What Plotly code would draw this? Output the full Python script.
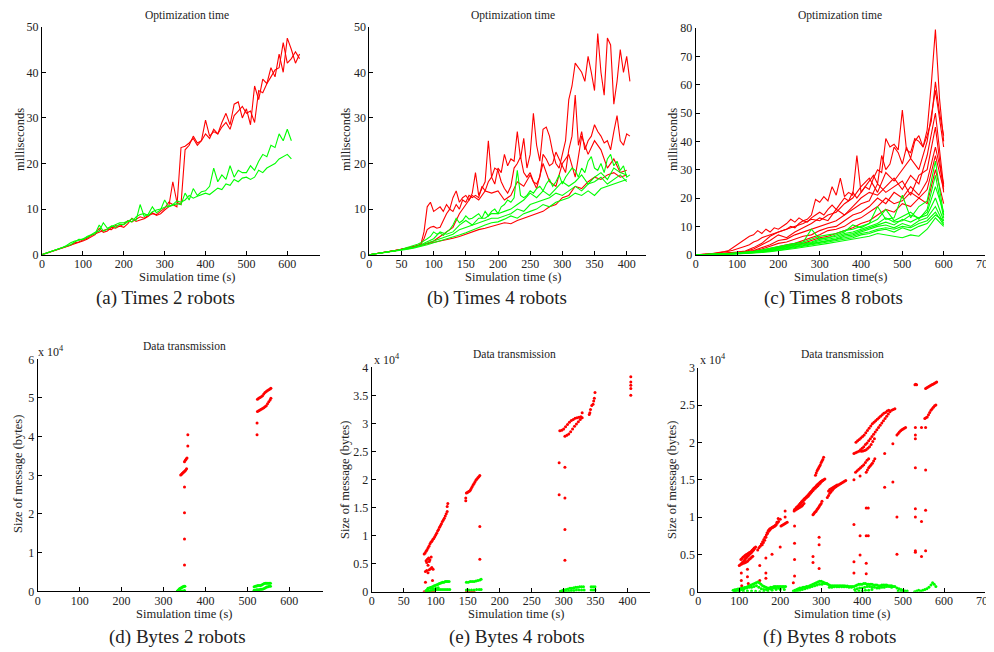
import plotly.graph_objects as go

FONT = "Liberation Serif"
RED = "#ff0000"
GREEN = "#00ff00"

# ---------------- (a) Times 2 robots ----------------
t_a = list(range(0, 640, 10))
t_a_green = list(range(0, 620, 10))
a_red = [
    [0, 0.3, 0.6, 0.9, 1.2, 1.5, 1.8, 2.1, 2.6, 2.8,
     3.2, 3.6, 4.2, 4.6, 4.9, 5.3, 5.6, 5.5, 6.4, 6.2,
     6.7, 7.5, 7.2, 7.8, 8.3, 8.0, 8.6, 9.0, 8.8, 9.5,
     10.2, 11.5, 11.0, 10.5, 23.5, 23.8, 24.5, 25.5, 24.0, 25.0,
     26.5, 25.5, 27.5, 26.5, 28.0, 29.0, 27.5, 30.5, 31.5, 32.5,
     31.0, 31.5, 29.0, 36.0, 35.5, 37.5, 39.0, 40.5, 41.0, 46.5,
     42.0, 43.0, 44.5, 43.0],
    [0, 0.3, 0.5, 0.8, 1.1, 1.4, 1.7, 2.0, 2.3, 2.7,
     3.0, 3.4, 3.9, 4.4, 5.8, 4.9, 5.2, 6.0, 5.8, 6.3,
     6.0, 6.8, 8.0, 7.3, 7.6, 7.9, 8.4, 9.2, 8.6, 9.0,
     9.8, 10.5, 16.0, 11.5, 11.0, 23.0, 24.0, 26.0, 24.5, 25.0,
     29.5, 26.0, 27.0, 26.5, 29.0, 31.0, 28.5, 33.0, 33.5, 30.0,
     32.0, 28.5, 37.0, 34.0, 38.5, 37.5, 41.0, 39.0, 44.0, 40.0,
     47.5, 45.0, 42.0, 44.0],
]
a_green = [
    [0, 0.3, 0.6, 1.0, 1.3, 1.6, 2.0, 2.6, 3.0, 3.1,
     3.5, 3.8, 4.3, 4.6, 6.5, 5.2, 5.6, 6.3, 6.0, 6.7,
     6.6, 7.2, 7.9, 7.5, 11.0, 8.4, 8.9, 10.5, 9.2, 9.8,
     12.0, 10.5, 10.8, 11.2, 11.0, 13.5, 12.0, 14.5, 13.0, 13.8,
     14.0, 15.0, 19.0, 16.0, 17.5, 16.5, 19.5, 17.0, 18.5, 18.0,
     18.0, 19.5, 18.5, 20.5, 22.0, 21.5, 24.0, 23.5, 26.5, 25.0,
     27.5, 25.0],
    [0, 0.3, 0.6, 0.9, 1.2, 1.5, 1.8, 2.2, 2.8, 3.4,
     3.3, 4.0, 4.4, 4.9, 5.2, 7.0, 5.8, 6.2, 6.6, 7.0,
     7.0, 7.4, 7.2, 8.3, 8.8, 9.0, 8.6, 9.4, 9.8, 10.0,
     10.4, 10.6, 11.0, 11.8, 11.5, 12.0, 13.0, 12.4, 12.8, 13.2,
     13.5, 13.2, 14.0, 14.6, 14.3, 15.5, 15.2, 16.5, 16.0, 16.8,
     17.0, 16.5, 17.0, 18.5, 18.0, 19.0, 19.5, 20.0, 21.0, 21.5,
     22.0, 21.0],
]

# ---------------- (b) Times 4 robots ----------------
t_b5 = list(range(0, 410, 5))
t_b = list(range(0, 410, 10))
b_red_fine = [
    [0, 0.1, 0.2, 0.3, 0.4, 0.5, 0.6, 0.7, 0.9, 1.0, 1.2, 1.3, 1.5, 1.6, 1.8, 2.0, 2.2,
     5.0, 10.5, 11.5, 9.5, 10.0, 10.5, 9.5, 11.0, 10.0, 12.5, 14.0, 11.5, 12.5, 13.0, 12.0, 13.5,
     18.0, 13.0, 14.5, 16.0, 25.0, 17.0, 15.5, 19.0, 18.0, 22.0, 19.5, 21.0, 20.5, 27.0, 21.0, 25.5,
     19.0, 22.0, 31.0, 24.0, 20.5, 27.5, 28.0, 26.0, 22.5, 20.0, 19.0, 22.0, 25.0, 34.0, 37.0, 42.0,
     41.0, 40.0, 38.0, 43.5, 40.0, 36.0, 48.5, 40.0, 35.0, 47.5, 46.0, 33.0, 38.0, 45.0, 40.0, 43.5, 38.0],
    [0, 0.1, 0.2, 0.3, 0.4, 0.5, 0.6, 0.7, 0.9, 1.0, 1.2, 1.3, 1.5, 1.6, 1.8, 2.0, 2.3,
     3.5, 5.5, 6.0, 6.2, 5.8, 6.0, 7.5, 9.0, 10.0, 9.5, 11.0, 10.0, 12.0, 11.5, 13.0, 12.5,
     13.0, 12.5, 15.0, 14.0, 16.0, 17.0, 19.0, 18.5, 16.0, 14.5, 13.5, 15.0, 19.0, 20.0, 21.5, 18.0,
     17.0, 18.0, 16.0, 15.5, 17.0, 22.0, 21.0, 19.5, 20.0, 22.5, 21.0, 19.5, 18.0, 23.0, 26.0, 35.0,
     24.0, 27.0, 23.0, 25.0, 26.0, 28.5, 27.0, 26.0, 24.5, 25.0, 23.0, 27.0, 30.5, 25.0, 24.0, 26.5, 26.0],
]
b_red = [
    [0, 0.2, 0.4, 0.6, 0.9, 1.2, 1.5, 1.8, 2.0, 2.5,
     3.0, 4.0, 5.0, 6.0, 9.0, 11.0, 13.0, 12.0, 14.0, 13.5,
     14.0, 12.0, 13.0, 16.0, 15.0, 17.5, 14.5, 20.0, 16.0, 15.0,
     20.0, 22.0, 17.0, 26.0, 22.0, 25.0, 23.0, 19.0, 21.0, 18.0, 18.5],
    [0, 0.2, 0.4, 0.6, 0.9, 1.2, 1.5, 1.8, 2.0, 2.3,
     2.6, 3.0, 3.3, 3.6, 4.0, 4.5, 5.0, 5.5, 5.8, 6.2,
     6.5, 7.0, 6.8, 7.5, 8.0, 8.5, 9.0, 9.5, 10.5, 11.0,
     12.5, 13.0, 15.0, 14.5, 16.0, 17.0, 16.5, 17.5, 18.0, 17.0, 17.5],
]
b_green_fine = [
    [0, 0.1, 0.2, 0.3, 0.4, 0.5, 0.6, 0.7, 0.9, 1.0, 1.2, 1.4, 1.6, 1.8, 2.0, 2.3, 2.6,
     3.0, 3.5, 4.0, 5.0, 4.5, 4.8, 4.2, 5.0, 5.5, 6.5, 8.0, 7.0, 7.5, 8.5, 7.8, 8.0,
     8.5, 9.0, 8.0, 9.5, 8.5, 9.5, 10.0, 9.0, 10.5, 11.0, 12.0, 11.5, 12.5, 18.5, 13.0, 12.5,
     13.0, 14.0, 13.5, 14.5, 15.0, 14.0, 15.5, 16.5, 15.0, 16.0, 17.5, 15.5, 17.0, 18.0, 19.0, 18.5,
     17.0, 19.0, 18.0, 20.5, 21.5, 19.0, 18.5, 20.0, 18.0, 21.0, 22.0, 19.5, 20.5, 18.5, 19.5, 17.0, 17.5],
]
b_green = [
    [0, 0.2, 0.4, 0.6, 0.8, 1.1, 1.4, 1.7, 2.2, 2.8,
     3.5, 5.0, 4.5, 5.0, 6.5, 7.5, 6.5, 8.0, 8.0, 9.0,
     9.0, 9.5, 10.0, 11.0, 12.0, 13.5, 12.5, 14.0, 13.0, 14.5,
     16.0, 15.0, 16.0, 17.5, 15.5, 17.0, 18.0, 16.5, 19.0, 18.0, 17.5],
    [0, 0.2, 0.4, 0.6, 0.8, 1.0, 1.3, 1.6, 2.0, 2.5,
     3.0, 3.5, 4.0, 4.5, 5.5, 6.0, 6.5, 7.0, 7.5, 8.0,
     8.0, 8.5, 9.0, 10.0, 9.5, 11.0, 11.5, 12.0, 12.5, 13.5,
     13.0, 14.0, 15.0, 14.0, 15.5, 16.0, 17.0, 15.5, 16.5, 17.5, 16.0],
    [0, 0.2, 0.3, 0.5, 0.7, 0.9, 1.2, 1.5, 1.8, 2.2,
     2.6, 3.0, 3.4, 3.8, 4.3, 4.8, 5.4, 6.0, 6.5, 7.0,
     7.2, 7.8, 8.5, 8.0, 9.0, 9.5, 10.0, 11.0, 10.5, 11.5,
     12.0, 12.5, 13.5, 13.0, 14.0, 13.0, 14.5, 15.0, 15.5, 16.0, 16.5],
]

# ---------------- (c) Times 8 robots ----------------
t_c10 = list(range(0, 610, 10))
t_c = list(range(0, 620, 20))
c_red_fine = [
    [0, 0, 0.1, 0.2, 0.3, 0.5, 0.7, 0.9, 1.2, 1.6,
     2.0, 2.5, 3.0, 3.5, 4.5, 5.0, 6.0, 6.5, 7.0, 7.5,
     8.0, 8.5, 9.0, 10.0, 9.5, 11.0, 12.0, 11.5, 13.0, 14.0,
     15.0, 14.0, 16.0, 17.5, 16.0, 18.0, 20.0, 19.0, 22.0, 20.0,
     22.0, 24.0, 26.0, 28.0, 25.0, 35.0, 30.0, 32.0, 38.0, 36.0,
     32.0, 38.0, 34.0, 40.0, 42.0, 38.0, 44.0, 60.0, 79.5, 55.0,
     40.0],
    [0, 0, 0.1, 0.2, 0.4, 0.6, 0.8, 1.1, 1.5, 2.5,
     3.5, 4.5, 5.5, 6.5, 7.0, 8.5, 7.5, 9.0, 8.0, 9.5,
     9.0, 10.0, 11.0, 12.5, 11.5, 13.0, 12.0, 12.5, 14.0, 19.5,
     18.5, 20.5, 19.0, 24.0, 21.0, 27.0, 20.5, 22.0, 21.0, 35.0,
     22.0, 24.0, 23.0, 27.0, 30.0, 29.0, 41.0, 38.0, 39.0, 37.0,
     51.0, 37.0, 36.0, 41.0, 40.0, 38.0, 42.0, 47.0, 61.0, 50.0,
     42.0],
]
c_red = [
    [0, 0, 0.2, 0.4, 0.6, 0.9, 1.3, 2.5, 4.0, 6.5,
     8.0, 9.0, 10.0, 11.0, 12.5, 12.0, 14.0, 15.0, 18.0, 20.0,
     24.0, 27.0, 22.0, 29.0, 26.0, 30.0, 34.0, 30.0, 40.0, 58.0, 38.0],
    [0, 0, 0.2, 0.3, 0.5, 0.8, 1.1, 2.0, 3.5, 5.0,
     7.0, 6.0, 8.0, 9.5, 11.0, 13.0, 12.0, 16.0, 14.0, 17.0,
     20.0, 22.0, 21.0, 24.0, 27.0, 23.0, 28.0, 25.0, 35.0, 50.0, 24.0],
    [0, 0, 0.1, 0.3, 0.5, 0.7, 1.0, 1.5, 2.5, 3.5,
     5.0, 5.5, 7.0, 8.0, 9.0, 10.0, 11.0, 12.0, 14.0, 16.0,
     18.0, 19.0, 25.0, 22.0, 24.0, 26.0, 21.0, 28.0, 30.0, 45.0, 22.0],
    [0, 0, 0.1, 0.2, 0.4, 0.6, 0.9, 1.3, 2.0, 3.0,
     4.0, 4.5, 5.5, 6.5, 7.0, 8.5, 9.5, 10.0, 12.0, 14.0,
     15.0, 17.0, 20.0, 18.0, 22.0, 20.0, 24.0, 21.0, 26.0, 38.0, 25.0],
    [0, 0, 0.1, 0.2, 0.3, 0.5, 0.7, 1.0, 1.5, 2.2,
     3.0, 3.5, 4.0, 5.0, 6.0, 7.0, 8.5, 9.0, 10.0, 12.0,
     13.0, 15.0, 17.0, 20.0, 18.0, 19.0, 22.0, 20.0, 18.0, 30.0, 18.0],
    [0, 0, 0.1, 0.2, 0.3, 0.4, 0.6, 0.9, 1.3, 1.8,
     2.5, 3.0, 3.5, 4.0, 5.0, 6.0, 6.5, 7.5, 8.5, 9.5,
     11.0, 12.0, 14.0, 16.0, 15.0, 18.0, 17.0, 20.0, 23.0, 35.0, 23.0],
]
c_green = [
    [0, 0, 0.1, 0.2, 0.4, 0.6, 0.9, 1.2, 1.7, 2.3,
     3.0, 3.5, 4.0, 4.5, 5.5, 6.5, 7.0, 7.5, 8.5, 9.0,
     10.0, 11.0, 17.0, 12.5, 13.0, 21.0, 13.0, 17.0, 19.0, 33.0, 14.0],
    [0, 0, 0.1, 0.2, 0.4, 0.5, 0.8, 1.1, 1.5, 2.0,
     2.6, 3.2, 3.8, 4.5, 9.0, 5.5, 6.0, 7.0, 8.0, 10.5,
     9.5, 11.0, 12.5, 16.0, 12.0, 13.5, 15.0, 12.5, 16.0, 28.0, 13.0],
    [0, 0, 0.1, 0.2, 0.3, 0.5, 0.7, 1.0, 1.4, 1.9,
     2.4, 3.0, 3.5, 4.0, 4.5, 5.5, 6.0, 6.5, 7.5, 8.0,
     9.0, 10.0, 11.0, 13.0, 11.5, 12.0, 14.0, 13.0, 15.0, 24.0, 15.0],
    [0, 0, 0.1, 0.2, 0.3, 0.4, 0.6, 0.9, 1.3, 1.8,
     2.2, 2.8, 3.2, 3.7, 4.2, 5.0, 5.5, 6.0, 7.0, 7.5,
     8.5, 9.5, 10.5, 11.5, 10.5, 12.5, 11.5, 13.0, 14.0, 20.0, 12.0],
    [0, 0, 0.1, 0.2, 0.3, 0.4, 0.6, 0.8, 1.1, 1.5,
     2.0, 2.5, 3.0, 3.5, 4.0, 4.5, 5.0, 5.5, 6.5, 7.0,
     8.0, 9.0, 10.0, 10.5, 9.5, 11.0, 10.0, 12.0, 13.0, 17.0, 11.0],
    [0, 0, 0.1, 0.1, 0.2, 0.4, 0.5, 0.7, 1.0, 1.4,
     1.8, 2.2, 2.7, 3.2, 3.8, 4.3, 4.8, 5.3, 6.0, 6.5,
     7.5, 8.0, 9.0, 9.5, 9.0, 10.0, 9.5, 11.0, 12.0, 15.0, 10.5],
    [0, 0, 0.1, 0.1, 0.2, 0.3, 0.5, 0.7, 0.9, 1.2,
     1.6, 2.0, 2.5, 3.0, 3.5, 4.0, 4.5, 5.0, 5.5, 6.0,
     7.0, 7.5, 8.5, 9.0, 8.0, 9.5, 8.5, 10.0, 11.0, 14.0, 12.0],
    [0, 0, 0.1, 0.1, 0.2, 0.3, 0.4, 0.6, 0.8, 1.1,
     1.4, 1.8, 2.2, 2.6, 3.0, 3.5, 4.0, 4.5, 5.0, 5.5,
     6.0, 6.5, 7.5, 7.0, 6.5, 6.0, 7.0, 6.5, 9.0, 13.0, 10.0],
]

# ---------------- (d) Bytes 2 robots ----------------
d_red_x = [341, 343, 345, 347, 349, 351, 353, 355, 350, 352, 354, 356, 358, 358, 350, 350, 350, 350,
           524, 527, 530, 533, 536, 539, 542, 545, 548, 551, 554, 556,
           524, 527, 530, 533, 536, 539, 542, 545, 548, 551, 554, 556, 523, 523]
d_red_y = [30100, 30300, 30500, 30700, 30900, 31100, 31400, 31700, 33500, 33900, 34200, 34500, 37600, 40500,
           27000, 20300, 13500, 6800,
           49700, 49900, 50100, 50300, 50600, 51000, 51400, 51700, 51900, 52100, 52300, 52500,
           46500, 46700, 46900, 47100, 47300, 47500, 47700, 48000, 48500, 49000, 49500, 49900, 43500, 40500]
d_green_x = [333, 335, 337, 339, 341, 343, 345, 347, 349, 351, 334, 338, 342, 346, 350,
             516, 519, 522, 525, 528, 531, 534, 537, 540, 543, 546, 549, 552, 555,
             516, 519, 522, 525, 528, 531, 534, 537, 540, 543, 546, 549, 552, 555]
d_green_y = [100, 300, 500, 700, 800, 1000, 1100, 1200, 1300, 1300, 0, 100, 0, 100, 200,
             1200, 1300, 1400, 1500, 1500, 1500, 1600, 1800, 2000, 2100, 2100, 2100, 2100, 2100,
             300, 300, 400, 400, 400, 500, 500, 600, 700, 900, 1100, 1200, 1300, 1300]

# ---------------- (e) Bytes 4 robots ----------------
e_red_x = [82, 83.5, 85, 86.5, 88, 89.5, 91, 92.5, 94, 95.5, 97, 98.5, 100, 101.5, 103, 104.5, 106, 107.5,
           109, 110.5, 112, 113.5, 115, 116.5, 118, 118, 119,
           85, 87, 89, 91, 93, 86, 90, 84, 86, 88, 90, 92, 94, 96, 84, 95, 88,
           148, 149.5, 151, 152.5, 154, 155.5, 157, 158.5, 160, 161.5, 163, 164.5, 166, 167.5, 169,
           147, 147, 169, 169,
           294, 297, 300, 303, 306, 309, 312, 315, 318, 321, 324, 327, 329,
           302, 305, 308, 311, 314, 317, 320, 323, 326, 329,
           293, 293, 302, 302, 302, 302,
           340, 341, 342, 344, 346, 347, 348, 349,
           405, 405, 405, 405, 405,
           82, 86, 90, 94, 98, 148, 152, 156, 160, 295, 300]
e_red_y = [6700, 6900, 7200, 7500, 7800, 8100, 8500, 8800, 9000, 9300, 9500, 9800, 10100, 10400, 10800, 11100,
           11500, 11800, 12100, 12500, 12800, 13100, 13500, 13900, 14300, 15200, 15700,
           5500, 5800, 6000, 5700, 6200, 5200, 5400, 3600, 3800, 3400, 3900, 4100, 4300, 4000, 1700, 2000, 4700,
           17600, 17700, 17800, 17900, 18100, 18400, 18700, 19000, 19300, 19600, 19900, 20100, 20300, 20500, 20700,
           16200, 16700, 11600, 5800,
           28700, 28800, 29000, 29400, 29800, 30200, 30500, 30700, 30900, 31000, 31100, 31200, 31900,
           27700, 27900, 28100, 28500, 29000, 29500, 29900, 30300, 30700, 31000,
           23000, 17300, 22200, 16700, 11100, 5600,
           31600, 31900, 32500, 33200, 33400, 34000, 34500, 35500,
           35000, 36200, 36800, 37400, 38300,
           0, 0, 0, 0, 0, 0, 0, 0, 0, 0, 0]
e_green_x = [85, 87, 89, 91, 93, 95, 97, 99, 101, 103, 105, 107, 109, 111, 113, 115, 117, 119, 121,
             86, 89, 92, 95, 98, 101, 104, 107, 110, 113, 116, 119, 122,
             88, 92, 96, 100, 104,
             148, 151, 154, 157, 160, 163, 166, 169, 171,
             148, 152, 156, 160, 164, 168, 171,
             295, 298, 301, 304, 307, 310, 313, 316, 319, 322, 325, 328, 331,
             296, 300, 304, 308, 312, 316, 320, 324, 328, 332,
             343, 346, 349, 343, 346, 349]
e_green_y = [200, 400, 600, 700, 800, 900, 1000, 1100, 1200, 1300, 1400, 1500, 1600, 1700, 1700, 1800, 1800, 1800, 1800,
             0, 100, 200, 300, 300, 400, 400, 400, 400, 400, 400, 400, 400,
             600, 700, 500, 600, 700,
             1700, 1700, 1800, 1800, 1800, 1900, 2000, 2100, 2200,
             300, 300, 300, 300, 400, 400, 400,
             100, 200, 300, 400, 500, 600, 600, 700, 800, 800, 900, 900, 900,
             0, 0, 100, 100, 200, 200, 300, 300, 300, 300,
             900, 900, 900, 300, 300, 300]

# ---------------- (f) Bytes 8 robots ----------------
f_red_x = [100, 102.5, 105, 107.5, 110, 112.5, 115, 117.5, 120, 122.5, 125, 127.5, 130, 132.5, 135, 137.5, 140,
           104, 106.5, 109, 111.5, 114, 116.5, 119, 121.5, 124, 126.5, 129, 131.5, 134, 136.5,
           106, 109, 112, 115, 118, 121, 124, 127, 130, 133,
           145, 148, 151, 154, 157, 160, 163, 166, 169, 172, 175, 178, 181, 184, 187, 190, 193, 196, 200,
           156, 159, 162, 165, 168, 171, 174, 177, 180, 183, 186, 189, 192, 195,
           202, 205, 208, 211, 214, 217,
           105, 105, 120, 120, 150, 150, 165, 165, 165, 180, 200, 212, 212, 106, 122,
           235, 238, 241, 244, 247, 250, 253, 256, 259, 262, 265, 268, 271, 274, 277, 280, 283, 286, 289, 292,
           295, 298, 301, 304,
           240, 243, 246, 249, 252, 255, 258, 261, 264, 267, 270, 273, 276, 279, 282, 285, 288, 291, 294, 297,
           300, 303, 306, 309,
           234, 237, 240, 243, 246, 249, 252, 255, 258,
           286, 288, 290, 292, 294, 296, 298, 300, 302, 304, 306,
           280, 282, 284, 286, 288, 290, 292, 294, 296, 298, 300, 302,
           315, 318, 321, 324, 327, 330, 333, 336, 339, 342, 345, 348, 351, 354, 357, 360,
           318, 321, 324, 327, 330, 333, 336, 339,
           235, 235, 235, 235, 280, 280, 295, 295, 295, 232,
           380, 384, 388, 392, 396, 400, 404, 408, 412, 416, 420, 424, 428, 432, 436, 440, 444, 448, 452, 456,
           460, 464, 468, 472, 476, 480,
           385, 389, 393, 397, 401, 405, 409, 413, 417, 421, 425, 429, 433, 437, 441, 445, 449, 453, 457, 461, 465,
           398, 402, 406, 410, 414, 418, 422, 426, 430,
           384, 388, 392, 396, 400, 404, 408, 412, 416,
           410, 413, 416, 419, 422, 425, 428, 431,
           380, 380, 380, 380, 395, 395, 395, 410, 410, 410, 410, 415, 415, 455, 455, 475, 475, 485, 485,
           530, 530, 530, 530, 530, 545, 545, 555, 555, 555,
           485, 488, 491, 494, 497, 500, 503, 506,
           529, 531, 533,
           555, 558, 561, 564, 567, 570, 573, 576, 579, 582,
           553, 556, 559, 562, 565, 568, 571, 574, 577, 580,
           530, 530, 530, 545, 555]
f_red_y = [3500, 3600, 3750, 3900, 4050, 4200, 4400, 4550, 4700, 4850, 5000, 5150, 5300, 5450, 5600, 5800, 6000,
           4300, 4450, 4600, 4700, 4850, 4950, 5000, 5100, 5200, 5300, 5400, 5550, 5700, 5850,
           3700, 3800, 3850, 3900, 4000, 4100, 4300, 4450, 4600, 4750,
           5600, 5900, 6100, 6400, 6700, 7000, 7300, 7600, 7800, 8100, 8300, 8500, 8600, 8700, 8800, 9000, 9200,
           9400, 9700,
           6300, 6600, 6900, 7300, 7900, 8200, 8400, 8500, 8600, 8700, 8800, 8900, 9300, 9800,
           8800, 8900, 9000, 9100, 9200, 9300,
           2500, 1500, 2000, 3000, 1500, 3500, 1800, 2500, 4500, 5000, 6000, 10000, 10800, 800, 1100,
           11000, 11150, 11300, 11450, 11600, 11800, 12000, 12150, 12300, 12500, 12650, 12800, 13000, 13200, 13400,
           13550, 13750, 13900, 14050, 14200, 14400, 14550, 14750, 14900,
           11300, 11450, 11650, 11850, 12050, 12200, 12400, 12550, 12700, 12900, 13100, 13300, 13450, 13650, 13850,
           14000, 14200, 14350, 14500, 14650, 14800, 14900, 15000, 15100,
           10800, 10950, 11050, 11150, 11250, 11350, 11450, 11600, 11800,
           15600, 15900, 16200, 16400, 16600, 16800, 17000, 17300, 17500, 17700, 18000,
           10300, 10450, 10600, 10700, 10800, 11000, 11150, 11300, 11500, 11650, 11800, 12100,
           12600, 12900, 13200, 13400, 13600, 13800, 13950, 14050, 14200, 14300, 14400, 14500, 14600, 14700, 14800,
           14900,
           13500, 13700, 13800, 13900, 14000, 14100, 14200, 14300,
           8800, 6500, 4300, 2100, 3900, 4700, 7300, 6300, 3100, 1200,
           18500, 18600, 18700, 18800, 19000, 19200, 19400, 19700, 19900, 20200, 20500, 20800, 21100, 21400, 21700,
           22000, 22300, 22600, 22900, 23200, 23500, 23800, 24100, 24300, 24400, 24500,
           20000, 20200, 20400, 20600, 20800, 21000, 21300, 21600, 21900, 22200, 22500, 22700, 22900, 23100, 23300,
           23500, 23700, 23900, 24000, 24200, 24300,
           18800, 18850, 18900, 19000, 19200, 19400, 19700, 20100, 20500,
           16000, 16200, 16400, 16600, 16800, 17000, 17300, 17600, 17800,
           16000, 16300, 16600, 16800, 17000, 17200, 17500, 17800,
           15000, 9000, 4000, 2500, 15500, 7500, 4900, 11200, 7500, 3800, 2400, 11200, 7500, 14000, 18500,
           14700, 19800, 10000, 5000,
           16600, 11100, 10000, 5500, 5300, 9400, 4700, 16300, 10900, 5500,
           21000, 21200, 21400, 21550, 21700, 21800, 21900, 22000,
           27700, 27800, 27700,
           27200, 27300, 27400, 27500, 27600, 27700, 27800, 27900, 28000, 28100,
           23200, 23300, 23400, 23700, 24000, 24300, 24500, 24700, 24900, 25000,
           22000, 21000, 20500, 22000, 22000]
f_green_x = [85, 89, 93, 97, 101, 105, 109, 113, 117, 121, 125, 129, 133, 137, 141, 145, 149, 153, 157, 161,
             165, 169, 173, 177, 181, 185, 189, 193, 197, 201, 205, 209, 213,
             88, 94, 100, 106, 112, 118, 124, 130, 136, 142, 148, 154, 160, 166, 172, 178, 184, 190, 196, 202, 208,
             90, 100, 110, 120, 130, 140, 150, 160, 170, 180, 190, 200, 210,
             232, 236, 240, 244, 248, 252, 256, 260, 264, 268, 272, 276, 280, 284, 288, 292, 296, 300, 304, 308,
             312, 316, 320, 324, 328, 332, 336, 340, 344, 348, 352, 356, 360, 364, 368, 372, 376,
             236, 242, 248, 254, 260, 266, 272, 278, 284, 290, 296, 302, 308, 314,
             320, 326, 332, 338, 344, 350, 356, 362, 368, 374,
             380, 384, 388, 392, 396, 400, 404, 408, 412, 416, 420, 424, 428, 432, 436, 440, 444, 448, 452, 456,
             460, 464, 468, 472, 476, 480,
             382, 388, 394, 400, 406, 412, 418, 424, 430, 436, 442, 448, 454, 460, 466, 472,
             384, 392, 400, 408, 416, 424,
             485, 490, 495, 500, 505, 510,
             528, 533, 538, 543, 548, 553, 558, 563, 568, 572, 576, 580,
             488, 495, 502]
f_green_y = [200, 250, 300, 350, 400, 450, 500, 550, 600, 700, 800, 900, 1000, 1100, 1200, 1300, 1200, 1000, 800,
             700, 600, 500, 500, 600, 600, 700, 700, 700, 700, 700, 700, 700, 700,
             100, 150, 200, 300, 400, 500, 600, 600, 700, 800, 600, 400, 300, 300, 400, 400, 500, 500, 500, 600, 600,
             0, 0, 50, 100, 100, 50, 0, 0, 100, 200, 300, 300, 300,
             100, 200, 300, 400, 500, 500, 600, 600, 700, 700, 800, 900, 1000, 1100, 1200, 1300, 1400, 1400, 1300,
             1200, 1100, 1000, 900, 800, 800, 800, 800, 800, 800, 800, 800, 800, 750, 750, 700, 700, 700,
             0, 100, 200, 300, 400, 500, 600, 700, 800, 900, 1000, 1000, 1100, 1100,
             600, 600, 650, 650, 650, 650, 650, 650, 600, 600,
             700, 800, 900, 1000, 1000, 1000, 1100, 1100, 1000, 1000, 1000, 1000, 900, 900, 900, 800, 800, 900, 900,
             900, 900, 800, 800, 800, 700, 700,
             300, 400, 500, 500, 600, 700, 700, 600, 600, 500, 500, 600, 600, 700, 700, 600,
             0, 100, 100, 200, 200, 300,
             500, 400, 300, 200, 100, 100,
             0, 100, 200, 100, 200, 300, 400, 600, 900, 1200, 1000, 700,
             100, 0, 0]

# ---------------- text ----------------
captions = ["(a) Times 2 robots", "(b) Times 4 robots", "(c) Times 8 robots",
            "(d) Bytes 2 robots", "(e) Bytes 4 robots", "(f) Bytes 8 robots"]
top_title = "Optimization time"
bottom_title = "Data transmission"
xtitles = ["Simulation time (s)", "Simulation time (s)", "Simulation time(s)",
           "Simulation time (s)", "Simulation time (s)", "Simulation time (s)"]
ytitle_top = "milliseconds"
ytitle_bottom = "Size of message (bytes)"

W, H = 994, 652
OFF = 8  # page body margin compensation (page pixels -> figure pixels)
fig = go.Figure()


def add_lines(ax, t, series, color):
    for s in series:
        fig.add_trace(go.Scatter(x=t[:len(s)], y=s, mode="lines", line=dict(color=color, width=1.1),
                                 xaxis="x" + ax, yaxis="y" + ax, showlegend=False, hoverinfo="skip"))


def add_dots(ax, xs, ys, color):
    fig.add_trace(go.Scatter(x=xs, y=ys, mode="markers", marker=dict(color=color, size=3, line=dict(width=0)),
                             xaxis="x" + ax, yaxis="y" + ax, showlegend=False, hoverinfo="skip"))


add_lines("", t_a, a_red, RED)
add_lines("", t_a_green, a_green, GREEN)
add_lines("2", t_b5, b_red_fine, RED)
add_lines("2", t_b, b_red, RED)
add_lines("2", t_b5, b_green_fine, GREEN)
add_lines("2", t_b, b_green, GREEN)
add_lines("3", t_c10, c_red_fine, RED)
add_lines("3", t_c, c_red, RED)
add_lines("3", t_c, c_green, GREEN)
add_dots("4", d_red_x, d_red_y, RED)
add_dots("4", d_green_x, d_green_y, GREEN)
add_dots("5", e_red_x, e_red_y, RED)
add_dots("5", e_green_x, e_green_y, GREEN)
add_dots("6", f_red_x, f_red_y, RED)
add_dots("6", f_green_x, f_green_y, GREEN)


def px(x):
    return (x - OFF) / W


def py(y):
    return 1 - (y - OFF) / H


# page-pixel boxes: (left, right, top, bottom)
boxes = [(42, 320, 26.7, 254.7), (369.3, 646, 26.7, 254.7), (695.7, 985, 28, 254.7),
         (37.7, 323.3, 359.3, 591.3), (371.7, 650, 367.3, 591.7), (698.3, 985, 367.7, 591.7)]
xranges = [[0, 680], [0, 430], [0, 700], [0, 681], [0, 435], [0, 700]]
xticks = [list(range(0, 700, 100)), list(range(0, 450, 50)), list(range(0, 800, 100)),
          list(range(0, 700, 100)), list(range(0, 450, 50)), list(range(0, 800, 100))]
yranges = [[0, 50], [0, 50], [0, 80], [0, 60000], [0, 40000], [0, 30000]]
yticks = [list(range(0, 60, 10)), list(range(0, 60, 10)), list(range(0, 90, 10)),
          list(range(0, 70000, 10000)), list(range(0, 45000, 5000)), list(range(0, 35000, 5000))]
ytext = [None, None, None,
         ["0", "1", "2", "3", "4", "5", "6"],
         ["0", "0.5", "1", "1.5", "2", "2.5", "3", "3.5", "4"],
         ["0", "0.5", "1", "1.5", "2", "2.5", "3"]]

tickfont = dict(family=FONT, size=12, color="#222")
layout = {}
for i, (l, r, t, b) in enumerate(boxes):
    sfx = "" if i == 0 else str(i + 1)
    xa = dict(domain=[px(l), px(r)], range=xranges[i], tickvals=xticks[i], showgrid=False, zeroline=False,
              showline=True, linecolor="black", linewidth=1, ticks="inside", ticklen=4, tickcolor="black",
              tickfont=tickfont, anchor="y" + sfx, fixedrange=True, automargin=False, ticklabelstandoff=-2)
    ya = dict(domain=[py(b), py(t)], range=yranges[i], tickvals=yticks[i], showgrid=False, zeroline=False,
              showline=True, linecolor="black", linewidth=1, ticks="inside", ticklen=4, tickcolor="black",
              tickfont=tickfont, anchor="x" + sfx, fixedrange=True, automargin=False)
    if ytext[i] is not None:
        ya["ticktext"] = ytext[i]
    layout["xaxis" + sfx] = xa
    layout["yaxis" + sfx] = ya

ann = []


def text(x, y, s, size, angle=0, xanchor="center"):
    ann.append(dict(x=px(x), y=py(y), xref="paper", yref="paper", text=s, showarrow=False,
                    font=dict(family=FONT, size=size, color="#222"), textangle=angle,
                    xanchor=xanchor, yanchor="middle"))


# titles
for cx in [187, 513, 840]:
    text(cx, 15, top_title, 11.5)
text(184, 346, bottom_title, 11.5)
text(515, 354, bottom_title, 11.5)
text(842, 354, bottom_title, 11.5)
# x titles
xt_pos = [(187, 277), (513, 277), (840, 277), (184, 614), (517, 614), (842, 614)]
for (cx, cy), s in zip(xt_pos, xtitles):
    text(cx, cy, s, 12.5)
# y titles
for cx in [20, 346, 673]:
    text(cx, 140, ytitle_top, 12.5, angle=-90)
for cx, cy in [(18, 474), (345, 480), (672, 480)]:
    text(cx, cy, ytitle_bottom, 12.5, angle=-90)
# exponent labels
for cx, cy in [(36, 351), (372, 359), (698, 359)]:
    text(cx, cy, "x 10<sup>4</sup>", 12, xanchor="left")
# captions
cap_pos = [(165, 298), (497, 298), (833, 298), (177, 637), (517, 637), (830, 637)]
for (cx, cy), s in zip(cap_pos, captions):
    text(cx, cy, s, 19)

fig.update_layout(width=W, height=H, margin=dict(l=0, r=0, t=0, b=0, autoexpand=False), paper_bgcolor="white",
                  plot_bgcolor="white", annotations=ann, showlegend=False, **layout)

fig.write_html("out.html")
